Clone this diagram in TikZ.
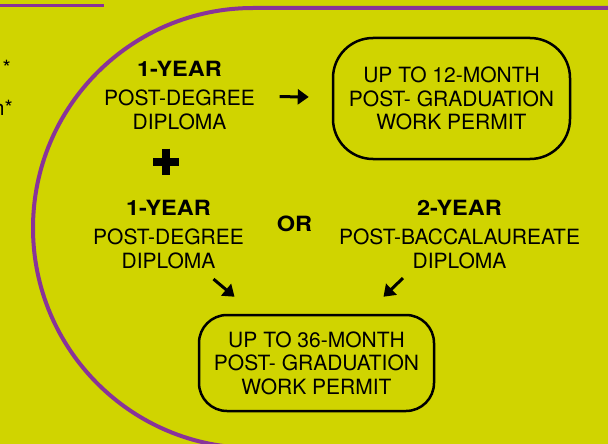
\documentclass[tikz,border=0pt]{standalone}
\usepackage{fontspec}
\setmainfont{TeX Gyre Heros}
\newfontfamily\titlefont[FakeStretch=1.12]{TeX Gyre Heros}
\usetikzlibrary{arrows.meta}
\definecolor{bgyellow}{RGB}{208,212,0}
\definecolor{plumline}{RGB}{137,51,153}
\tikzset{
  course/.style={align=center,inner sep=0pt,font=\fontsize{21}{24}\selectfont},
  permit/.style={draw,line width=2.5pt,align=center,inner sep=0pt,font=\fontsize{21}{23.5}\selectfont},
  arr/.style={line width=3pt,-{Triangle[length=11pt,width=15pt]}},
}
\begin{document}
\begin{tikzpicture}[x=1pt,y=-1pt]
\useasboundingbox (0,0) rectangle (608,444);
\fill[bgyellow] (0,0) rectangle (608,444);
\draw[plumline,line width=3pt] (-2,6) -- (104,6);
\draw[plumline,line width=4pt] (620,8) -- (253,8) arc[start angle=-90,end angle=-270,radius=220] -- (620,448);

\node[course,anchor=base east] (star1) at (11,76) {*};
\node[course,anchor=base east] (star2) at (13,115) {n*};

\node[course,anchor=north] (deg1) at (179.5,61) {{\titlefont\bfseries 1-YEAR}\\[5pt]POST-DEGREE\\DIPLOMA};
\node[permit,minimum width=237pt,minimum height=121pt,rounded corners=40pt] (permit12) at (451.5,98.5) {UP TO 12-MONTH\\POST- GRADUATION\\WORK PERMIT};
\draw[line width=8pt] (166,148.5) -- (166,174.5) (153,161.5) -- (179,161.5);

\node[course,anchor=north] (deg2) at (168.5,200) {{\titlefont\bfseries 1-YEAR}\\[5pt]POST-DEGREE\\DIPLOMA};
\node[course] (or) at (294.5,223.5) {\titlefont\bfseries OR};
\node[course,anchor=north] (bacc) at (459.5,200) {{\titlefont\bfseries 2-YEAR}\\[5pt]POST-BACCALAUREATE\\DIPLOMA};
\node[permit,minimum width=235pt,minimum height=96pt,rounded corners=28pt] (permit36) at (316.5,363) {UP TO 36-MONTH\\POST- GRADUATION\\WORK PERMIT};

\draw[arr,shorten <=24.5pt,shorten >=23pt] (deg1) -- (permit12);
\draw[arr] ([shift={(45,10)}]deg2.south) -- ([shift={(-82,-17)}]permit36.north);
\draw[arr] ([shift={(-56.5,9)}]bacc.south) -- ([shift={(67,-17)}]permit36.north);
\end{tikzpicture}
\end{document}
